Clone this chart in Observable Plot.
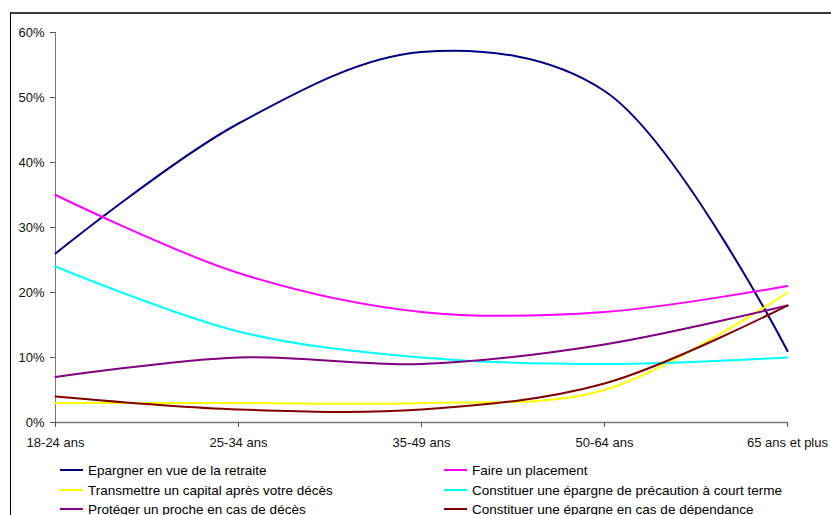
<!DOCTYPE html>
<html>
<head>
<meta charset="utf-8">
<script src="https://cdn.jsdelivr.net/npm/d3@7"></script>
<script src="https://cdn.jsdelivr.net/npm/@observablehq/plot@0.6"></script>
<style>
  html, body { margin: 0; padding: 0; background: #fff; overflow: hidden; width: 831px; height: 515px; }
  #frame { position: absolute; left: 10px; top: 12px; width: 900px; height: 600px;
           border-top: 2px solid #3a3a3a; border-left: 1px solid #000; }
  #chart { position: absolute; left: 0; top: 0; }
  #legend { position: absolute; left: 0; top: 461px; width: 831px;
            font-family: "Liberation Sans", Arial, sans-serif; font-size: 13.5px; color: #000; }
  .item { position: absolute; height: 19.5px; line-height: 19.5px; white-space: nowrap; }
  .swatch { display: inline-block; width: 23px; height: 0; border-top: 2px solid; vertical-align: middle; margin-right: 5px; position: relative; top: -1px; }
</style>
</head>
<body>
<div id="frame"></div>
<div id="chart"></div>
<div id="legend"></div>
<script>
const categories = ["18-24 ans", "25-34 ans", "35-49 ans", "50-64 ans", "65 ans et plus"];
const seriesNames = [
  "Epargner en vue de la retraite",
  "Faire un placement",
  "Transmettre un capital après votre décès",
  "Constituer une épargne de précaution à court terme",
  "Protéger un proche en cas de décès",
  "Constituer une épargne en cas de dépendance"
];
const seriesColors = ["#000080", "#FF00FF", "#FFFF00", "#00FFFF", "#800080", "#800000"];
const retraite    = [26, 46, 57, 51, 11];
const placement   = [35, 23, 17, 17, 21];
const transmettre = [3, 3, 3, 5, 20];
const precaution  = [24, 14, 10, 9, 10];
const proteger    = [7, 10, 9, 12, 18];
const dependance  = [4, 2, 2, 6, 18];
const yTicks = [0, 10, 20, 30, 40, 50, 60];

const allValues = [retraite, placement, transmettre, precaution, proteger, dependance];
const data = [];
allValues.forEach((vals, si) => {
  vals.forEach((v, ci) => data.push({series: seriesNames[si], cat: categories[ci], value: v}));
});

const chart = Plot.plot({
  width: 831,
  height: 455,
  marginTop: 32,
  marginBottom: 33,
  marginLeft: 55,
  marginRight: 44,
  style: {fontFamily: "'Liberation Sans', Arial, sans-serif", fontSize: "13px", color: "#000", background: "transparent"},
  x: {type: "point", domain: categories, padding: 0},
  y: {domain: [0, 60]},
  color: {domain: seriesNames, range: seriesColors},
  marks: [
    Plot.ruleX([categories[0]], {y1: 0, y2: 60, stroke: "#777", strokeWidth: 1}),
    Plot.ruleY([0], {stroke: "#777", strokeWidth: 1.5}),
    Plot.axisY({ticks: yTicks, tickFormat: d => d + "%", tickSize: 5, tickPadding: 6, stroke: "#555", label: null, fill: "#111"}),
    Plot.axisX({tickSize: 5, tickPadding: 10, stroke: "#555", label: null, fill: "#111"}),
    ...seriesNames.map((name, i) =>
      Plot.line(data.filter(d => d.series === name), {
        x: "cat", y: "value", stroke: seriesColors[i], strokeWidth: 2, curve: "catmull-rom"
      })
    )
  ]
});
document.getElementById("chart").appendChild(chart);

const legend = document.getElementById("legend");
const positions = [[60, 0], [444, 0], [60, 19.5], [444, 19.5], [60, 39], [444, 39]];
seriesNames.forEach((name, i) => {
  const el = document.createElement("div");
  el.className = "item";
  el.style.left = positions[i][0] + "px";
  el.style.top = positions[i][1] + "px";
  const sw = document.createElement("span");
  sw.className = "swatch";
  sw.style.borderTopColor = seriesColors[i];
  el.appendChild(sw);
  el.appendChild(document.createTextNode(name));
  legend.appendChild(el);
});
</script>
</body>
</html>
